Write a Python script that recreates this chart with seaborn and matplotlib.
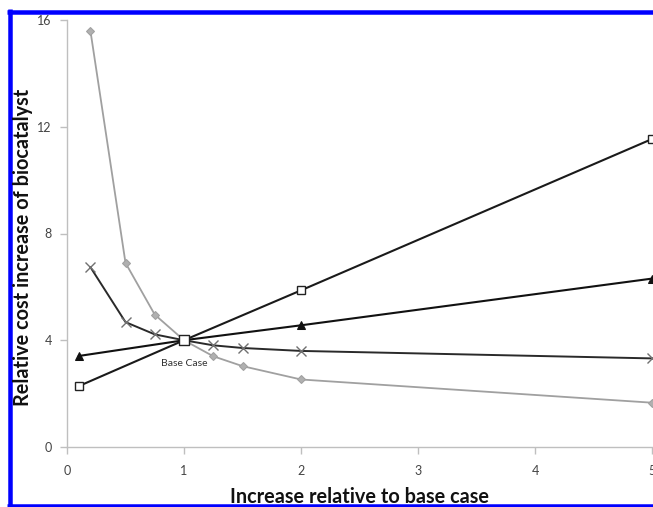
import numpy as np
import pandas as pd
import matplotlib
matplotlib.use("Agg")
import matplotlib.pyplot as plt
import seaborn as sns
from matplotlib.lines import Line2D

# ---- data ----
x_diamond = [0.2, 0.5, 0.75, 1.0, 1.25, 1.5, 2.0, 5.0]
y_diamond = [15.6, 6.9, 4.96, 4.0, 3.40, 3.03, 2.53, 1.66]

x_cross = [0.2, 0.5, 0.75, 1.0, 1.25, 1.5, 2.0, 5.0]
y_cross = [6.74, 4.68, 4.22, 4.0, 3.81, 3.71, 3.60, 3.32]

x_triangle = [0.1, 1.0, 2.0, 5.0]
y_triangle = [3.41, 4.0, 4.56, 6.31]

x_square = [0.1, 1.0, 2.0, 5.0]
y_square = [2.28, 4.0, 5.87, 11.54]

base_x = [1.0]
base_y = [4.0]
base_label = "Base Case"

x_ticks = [0, 1, 2, 3, 4, 5]
y_ticks = [0, 4, 8, 12, 16]
x_title = "Increase relative to base case"
y_title = "Relative cost increase of biocatalyst"

sns.set_style("white")
plt.rcParams["font.family"] = ["Lato", "DejaVu Sans"]

W, H = 653, 507
fig = plt.figure(figsize=(W / 100, H / 100), dpi=100)
fig.patch.set_facecolor("white")
ax = fig.add_axes([67 / W, 1 - 447 / H, (652 - 67) / W, (447 - 20) / H])

sns.lineplot(x=x_diamond, y=y_diamond, ax=ax, color="#a0a0a0", lw=1.3,
             marker="D", markersize=4, markerfacecolor="#b0b0b0",
             markeredgecolor="#a0a0a0", sort=False, clip_on=False)
sns.lineplot(x=x_cross, y=y_cross, ax=ax, color="#2a2a2a", lw=1.4,
             marker="x", markersize=7, markeredgewidth=1.0,
             markeredgecolor="#707070", sort=False, clip_on=False)
sns.lineplot(x=x_triangle, y=y_triangle, ax=ax, color="#111111", lw=1.5,
             marker="^", markersize=5.5, markerfacecolor="#111111",
             markeredgecolor="#111111", sort=False, clip_on=False)
sns.lineplot(x=x_square, y=y_square, ax=ax, color="#1a1a1a", lw=1.5,
             marker="s", markersize=6, markerfacecolor="white",
             markeredgecolor="#222222", markeredgewidth=1.0, sort=False,
             clip_on=False)
sns.scatterplot(x=base_x, y=base_y, ax=ax, marker="s", s=55, color="white",
                edgecolor="#222222", linewidth=1.0, zorder=10, clip_on=False)
ax.text(1.0, 3.14, base_label, ha="center", va="center", fontsize=7.5,
        color="#333333")

ax.set_xlim(0, 5)
ax.set_ylim(0, 16)
ax.set_xticks(x_ticks)
ax.set_yticks(y_ticks)
for s in ["top", "right"]:
    ax.spines[s].set_visible(False)
for s in ["left", "bottom"]:
    ax.spines[s].set_color("#bfbfbf")
    ax.spines[s].set_linewidth(1.0)
ax.tick_params(axis="both", which="major", length=5, width=1.0,
               color="#bfbfbf", labelcolor="#444444", labelsize=9,
               direction="out", bottom=True, left=True)
ax.tick_params(axis="x", pad=8)
ax.tick_params(axis="y", pad=6)
ax.grid(False)

fig.text(359 / W, 1 - 503 / H, x_title, ha="center", va="baseline",
         fontsize=14.3, fontweight="bold", color="#111111")
fig.text(23 / W, 1 - 247 / H, y_title, ha="center", va="center",
         rotation=90, fontsize=14.3, fontweight="bold", color="#111111")

# blue frame
blue = "#0000ff"
lw = 4.5 * 72 / 100
fig.add_artist(Line2D([10 / W, 10 / W], [0, 1 - 9 / H], color=blue, lw=lw,
                      transform=fig.transFigure, solid_capstyle="butt"))
fig.add_artist(Line2D([7 / W, 1], [1 - 11.5 / H, 1 - 11.5 / H], color=blue,
                      lw=lw, transform=fig.transFigure, solid_capstyle="butt"))
fig.add_artist(Line2D([7 / W, 1], [1 - 505.5 / H, 1 - 505.5 / H], color=blue,
                      lw=lw, transform=fig.transFigure, solid_capstyle="butt"))

fig.savefig("out.png", dpi=100, facecolor="white")
